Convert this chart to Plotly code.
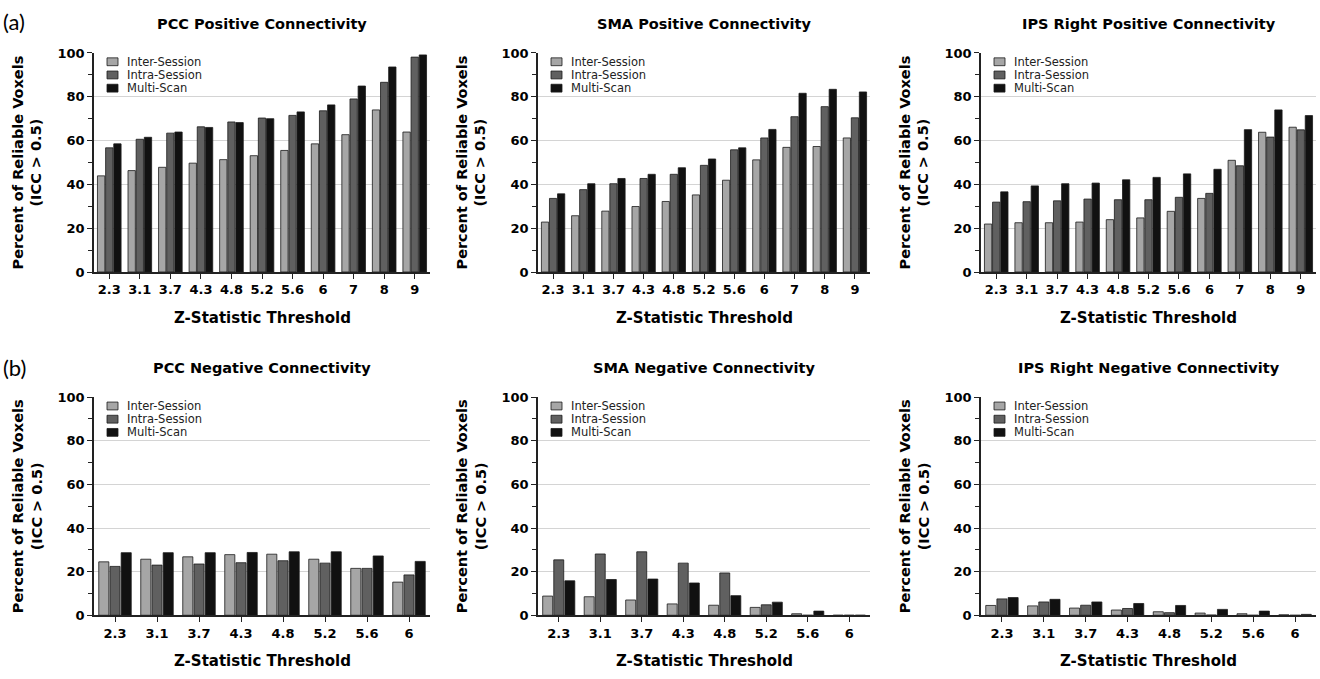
import plotly.graph_objects as go

W, H = 1320, 679

# ---------------- data ----------------
series_names = ["Inter-Session", "Intra-Session", "Multi-Scan"]
z_pos = ["2.3", "3.1", "3.7", "4.3", "4.8", "5.2", "5.6", "6", "7", "8", "9"]
z_neg = ["2.3", "3.1", "3.7", "4.3", "4.8", "5.2", "5.6", "6"]

pcc_pos_inter = [43.9, 46.3, 47.8, 49.7, 51.3, 53.1, 55.5, 58.5, 62.7, 74.0, 63.9]
pcc_pos_intra = [56.7, 60.6, 63.4, 66.3, 68.5, 70.3, 71.5, 73.6, 79.0, 86.6, 98.1]
pcc_pos_multi = [58.5, 61.5, 63.9, 66.0, 68.2, 70.0, 73.1, 76.3, 84.9, 93.6, 99.1]

sma_pos_inter = [22.8, 25.7, 27.8, 29.9, 32.2, 35.2, 41.9, 51.2, 56.9, 57.3, 61.2]
sma_pos_intra = [33.6, 37.6, 40.3, 42.7, 44.6, 48.7, 55.8, 61.2, 70.9, 75.5, 70.4]
sma_pos_multi = [35.7, 40.3, 42.7, 44.6, 47.6, 51.6, 56.7, 65.1, 81.6, 83.4, 82.2]

ips_pos_inter = [21.9, 22.5, 22.5, 22.8, 23.9, 24.7, 27.7, 33.6, 51.0, 63.8, 66.1]
ips_pos_intra = [31.9, 32.1, 32.5, 33.3, 33.0, 33.0, 34.1, 35.9, 48.5, 61.6, 64.9]
ips_pos_multi = [36.6, 39.3, 40.3, 40.6, 42.1, 43.2, 44.8, 46.9, 65.0, 74.0, 71.4]

pcc_neg_inter = [24.5, 25.7, 26.8, 27.8, 28.0, 25.7, 21.5, 15.2]
pcc_neg_intra = [22.4, 23.0, 23.5, 24.1, 25.0, 23.9, 21.5, 18.5]
pcc_neg_multi = [28.7, 28.7, 28.7, 28.8, 29.1, 29.1, 27.2, 24.7]

sma_neg_inter = [8.8, 8.5, 7.0, 5.2, 4.6, 3.6, 0.7, 0.0]
sma_neg_intra = [25.4, 28.1, 29.1, 23.9, 19.4, 4.8, 0.0, 0.0]
sma_neg_multi = [15.8, 16.4, 16.6, 14.8, 9.0, 6.0, 1.9, 0.0]

ips_neg_inter = [4.5, 4.3, 3.3, 2.4, 1.6, 1.0, 0.7, 0.2]
ips_neg_intra = [7.5, 6.1, 4.6, 3.1, 1.2, 0.1, 0.0, 0.0]
ips_neg_multi = [8.1, 7.3, 6.1, 5.4, 4.5, 2.7, 1.9, 0.4]

panel_titles = ["PCC Positive Connectivity", "SMA Positive Connectivity",
                "IPS Right Positive Connectivity", "PCC Negative Connectivity",
                "SMA Negative Connectivity", "IPS Right Negative Connectivity"]
y_ticks = [0, 20, 40, 60, 80, 100]

panels = [
    (z_pos, [pcc_pos_inter, pcc_pos_intra, pcc_pos_multi]),
    (z_pos, [sma_pos_inter, sma_pos_intra, sma_pos_multi]),
    (z_pos, [ips_pos_inter, ips_pos_intra, ips_pos_multi]),
    (z_neg, [pcc_neg_inter, pcc_neg_intra, pcc_neg_multi]),
    (z_neg, [sma_neg_inter, sma_neg_intra, sma_neg_multi]),
    (z_neg, [ips_neg_inter, ips_neg_intra, ips_neg_multi]),
]

# ---------------- styling ----------------
colors = ["#a6a6a6", "#606060", "#111111"]
FONT = "DejaVu Sans"

col_px = [(94, 430), (538, 870), (981, 1316)]
row_px = [(47, 271), (399, 622)]  # (top=100, bottom=0)


def px_x(p):
    return p / W


def px_y(p):
    return 1 - p / H


fig = go.Figure()
layout = dict(
    width=W, height=H, margin=dict(l=0, r=0, t=0, b=0),
    paper_bgcolor="white", plot_bgcolor="white",
    showlegend=False, barmode="group", bargap=0.2, bargroupgap=0.1,
    font=dict(family=FONT, color="black"),
)
annotations = []
shapes = []

for i, (cats, vals) in enumerate(panels):
    r, c = divmod(i, 3)
    n = i + 1
    xa = "x" if n == 1 else f"x{n}"
    ya = "y" if n == 1 else f"y{n}"
    for s in range(3):
        fig.add_trace(go.Bar(
            x=cats, y=vals[s], name=series_names[s], xaxis=xa, yaxis=ya,
            marker=dict(color=colors[s], line=dict(color="#1a1a1a", width=0.8)),
        ))
    x0, x1 = col_px[c]
    yt, yb = row_px[r]
    layout["xaxis" if n == 1 else f"xaxis{n}"] = dict(
        domain=[px_x(x0), px_x(x1)], anchor=ya, type="category",
        range=[-0.5, len(cats) - 0.5], showline=True, linecolor="#222",
        linewidth=1.5, ticks="outside", ticklen=5, tickcolor="#222",
        tickfont=dict(family=FONT, size=13, color="black", weight="bold"),
        showgrid=False, fixedrange=True,
    )
    layout["yaxis" if n == 1 else f"yaxis{n}"] = dict(
        domain=[px_y(yb), px_y(yt)], anchor=xa, range=[0, 100],
        tickvals=y_ticks, showline=True, linecolor="#222", linewidth=1.5,
        ticks="outside", ticklen=5, tickcolor="#222",
        tickfont=dict(family=FONT, size=13, color="black", weight="bold"),
        showgrid=True, gridcolor="#d4d4d4", gridwidth=1,
        minor=dict(dtick=10, tick0=0, ticks="outside", ticklen=4,
                   tickcolor="#222", showgrid=False),
        zeroline=False, fixedrange=True,
    )
    cx = (x0 + x1) / 2
    # panel title
    annotations.append(dict(
        text=f"<b>{panel_titles[i]}</b>", x=px_x(cx), y=px_y(yt - 30),
        xref="paper", yref="paper", showarrow=False, xanchor="center",
        yanchor="middle", font=dict(family=FONT, size=14.5, color="black")))
    # x-axis title
    annotations.append(dict(
        text="<b>Z-Statistic Threshold</b>", x=px_x(cx), y=px_y(yb + 47),
        xref="paper", yref="paper", showarrow=False, xanchor="center",
        yanchor="middle", font=dict(family=FONT, size=15, color="black")))
    # y-axis title
    annotations.append(dict(
        text="<b>Percent of Reliable Voxels<br>(ICC > 0.5)</b>",
        x=px_x(x0 - 67), y=px_y((yt + yb) / 2), xref="paper", yref="paper",
        showarrow=False, textangle=-90, xanchor="center", yanchor="middle",
        font=dict(family=FONT, size=14.5, color="black")))
    # legend (drawn as small boxes + labels)
    for s in range(3):
        cy = yt + 9 + 13.5 * s
        shapes.append(dict(
            type="rect", xref="paper", yref="paper",
            x0=px_x(x0 + 13), x1=px_x(x0 + 24),
            y0=px_y(cy + 4), y1=px_y(cy - 4),
            fillcolor=colors[s], line=dict(color="#1a1a1a", width=0.8)))
        annotations.append(dict(
            text=series_names[s], x=px_x(x0 + 31), y=px_y(cy),
            xref="paper", yref="paper", showarrow=False, xanchor="left",
            yanchor="middle", font=dict(family=FONT, size=11.5, color="#222")))

for lab, py in [("(a)", 15), ("(b)", 369)]:
    annotations.append(dict(
        text=lab, x=px_x(1), y=px_y(py), xref="paper", yref="paper",
        showarrow=False, xanchor="left", yanchor="middle",
        font=dict(family="Lato", size=22, color="black")))

layout["annotations"] = annotations
layout["shapes"] = shapes
fig.update_layout(**layout)
fig.write_html("out.html")
